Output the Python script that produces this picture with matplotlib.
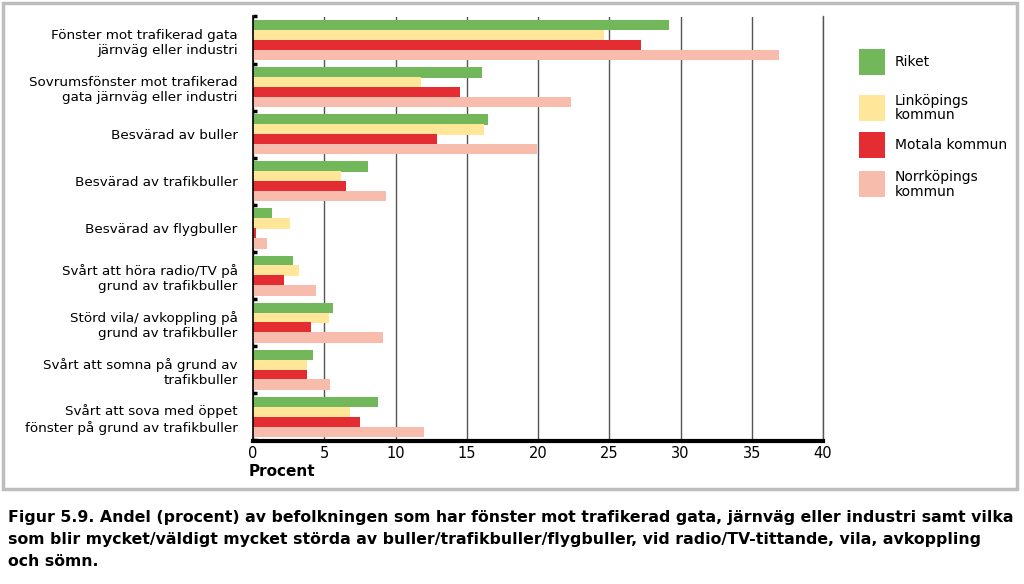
import matplotlib.pyplot as plt
from matplotlib.patches import Rectangle

categories = [
    "Fönster mot trafikerad gata\njärnväg eller industri",
    "Sovrumsfönster mot trafikerad\ngata järnväg eller industri",
    "Besvärad av buller",
    "Besvärad av trafikbuller",
    "Besvärad av flygbuller",
    "Svårt att höra radio/TV på\ngrund av trafikbuller",
    "Störd vila/ avkoppling på\ngrund av trafikbuller",
    "Svårt att somna på grund av\ntrafikbuller",
    "Svårt att sova med öppet\nfönster på grund av trafikbuller",
]
riket = [29.2, 16.1, 16.5, 8.1, 1.3, 2.8, 5.6, 4.2, 8.8]
linkoping = [24.6, 11.8, 16.2, 6.2, 2.6, 3.25, 5.3, 3.8, 6.8]
motala = [27.2, 14.5, 12.9, 6.5, 0.2, 2.2, 4.1, 3.8, 7.5]
norrkoping = [36.9, 22.3, 19.9, 9.3, 1.0, 4.4, 9.1, 5.4, 12.0]

series_names = ["Riket", "Linköpings\nkommun", "Motala kommun", "Norrköpings\nkommun"]
colors = ["#72b85a", "#ffe699", "#e42d33", "#f7bcab"]
caption = ("Figur 5.9. Andel (procent) av befolkningen som har fönster mot trafikerad gata, järnväg eller industri samt vilka\n"
           "som blir mycket/väldigt mycket störda av buller/trafikbuller/flygbuller, vid radio/TV-tittande, vila, avkoppling\n"
           "och sömn.")

W, H = 1024, 584
fig = plt.figure(figsize=(W / 100, H / 100), dpi=100)
ax = fig.add_axes([253 / W, 143.5 / H, 570 / W, 424 / H])

ypos = range(len(categories))
h = 0.22
offsets = [-0.315, -0.105, 0.105, 0.315]
for vals, col, off in zip([riket, linkoping, motala, norrkoping], colors, offsets):
    ax.barh([y + off for y in ypos], vals, height=h, color=col, zorder=3)

ax.set_xlim(0, 40)
ax.set_ylim(8.5, -0.5)
ax.set_xticks(range(0, 41, 5))
ax.set_yticks(list(ypos))
ax.set_yticklabels(categories, fontsize=9.7)
ax.set_yticks([y + 0.5 for y in range(-1, 9)], minor=True)
ax.tick_params(axis="y", which="major", length=0, pad=11)
ax.tick_params(axis="y", which="minor", length=3, width=2.5, direction="in", color="black")
ax.tick_params(axis="x", length=0, labelsize=10.5, pad=4)
ax.grid(axis="x", color="#555555", linewidth=1, zorder=0)
ax.spines["top"].set_visible(False)
ax.spines["right"].set_color("#555555")
ax.spines["right"].set_linewidth(1)
ax.spines["left"].set_color("black")
ax.spines["left"].set_linewidth(1.2)
ax.spines["bottom"].set_linewidth(3)
ax.spines["bottom"].set_color("black")
ax.spines["left"].set_zorder(4)
ax.spines["bottom"].set_zorder(4)

fig.text(249 / W, 1 - 472 / H, "Procent", fontsize=11, fontweight="bold", va="center", ha="left")

# legend, drawn by hand to match the original spacing
legend_y = [61.5, 108, 145, 184.5]
for name, col, yc in zip(series_names, colors, legend_y):
    fig.patches.append(Rectangle((859 / W, 1 - (yc + 13) / H), 26 / W, 26 / H,
                                 transform=fig.transFigure, facecolor=col, edgecolor="none"))
    fig.text(895 / W, 1 - yc / H, name, fontsize=10, va="center", ha="left", linespacing=1.0)

fig.patches.append(Rectangle((3 / W, 1 - 489 / H), 1014 / W, 486 / H,
                             transform=fig.transFigure, fill=False, edgecolor="#bdbdbd", linewidth=2.5))

fig.text(8 / W, 1 - 510 / H, caption, fontsize=11.3, fontweight="bold", va="top", ha="left",
         linespacing=1.6)

fig.savefig("out.png", dpi=100)
